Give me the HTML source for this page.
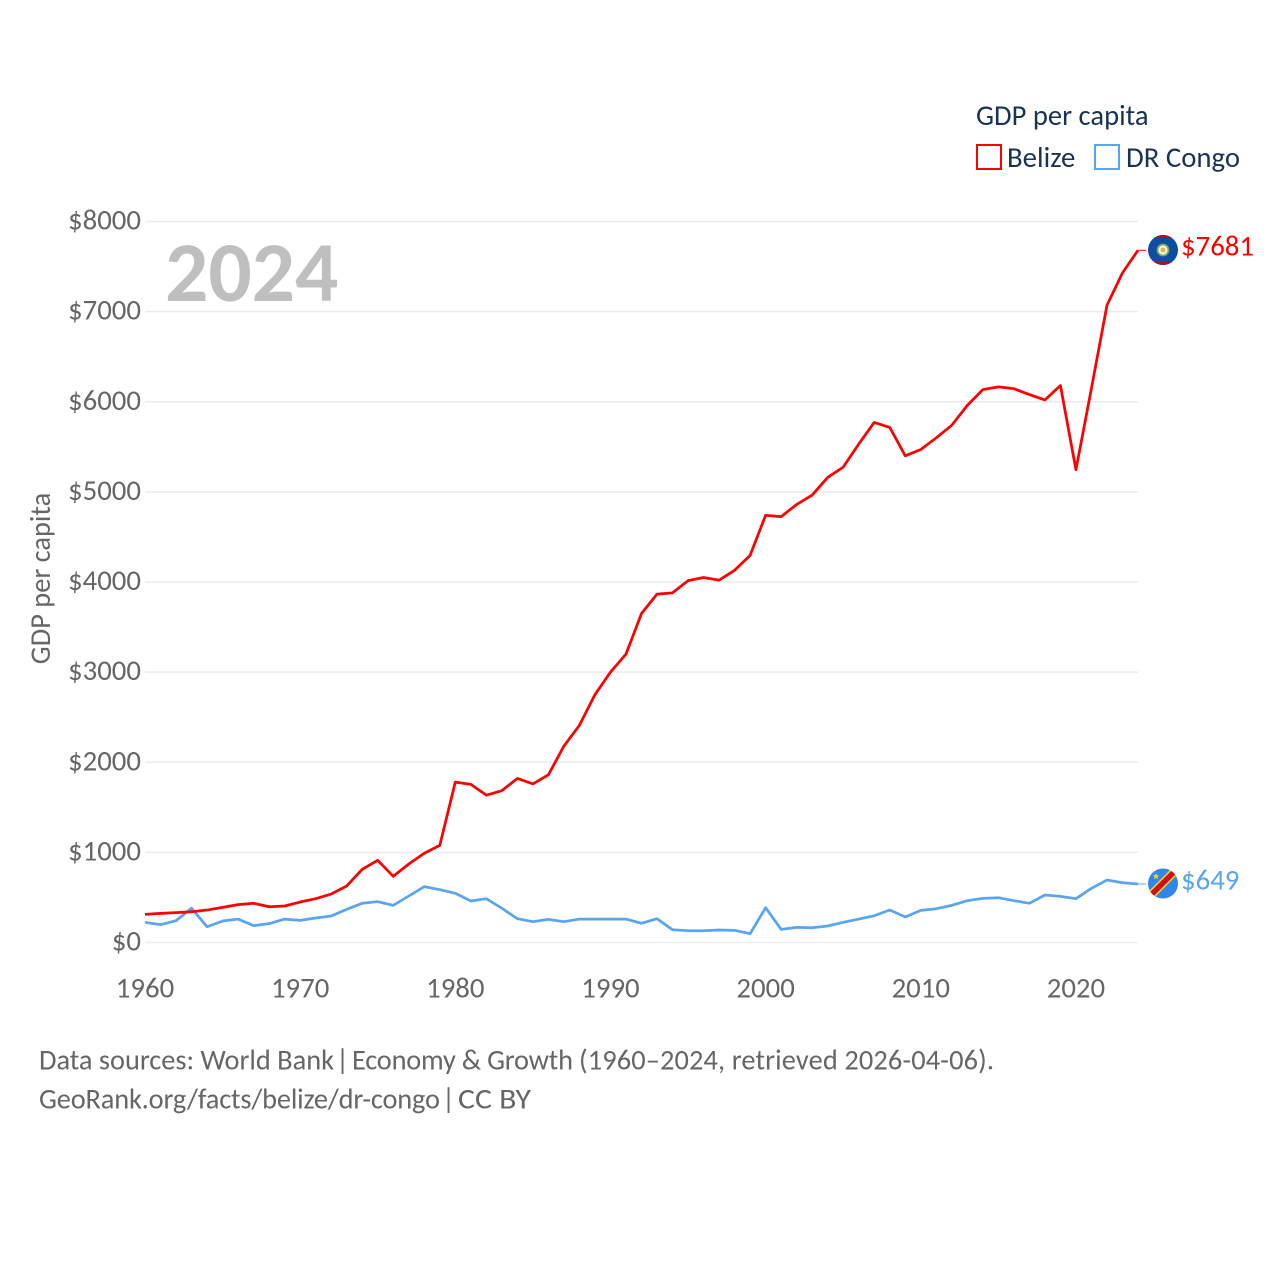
<!DOCTYPE html>
<html>
<head>
<meta charset="utf-8">
<title>GDP per capita: Belize and DR Congo</title>
<style>
html,body{margin:0;padding:0;background:#fff;}
svg{display:block;}
text{font-family:"Carlito","Lato","Liberation Sans",sans-serif;}
</style>
</head>
<body>
<svg id="chart" width="1280" height="1280" viewBox="0 0 1280 1280" xmlns="http://www.w3.org/2000/svg">
  <defs>
    <clipPath id="flag-clip-bz"><circle cx="1163" cy="250" r="15"/></clipPath>
    <clipPath id="flag-clip-cd"><circle cx="1163" cy="883.5" r="15"/></clipPath>
  </defs>
  <g id="grid"></g>
  <g id="yticks"></g>
  <g id="xticks"></g>
  <text x="165" y="301" font-size="85.5" font-weight="700" fill="#bfbfbf">2024</text>
  <text transform="translate(50,578.5) rotate(-90)" text-anchor="middle" font-size="28.4" fill="#666">GDP per capita</text>
  <g id="lines"></g>

  <g clip-path="url(#flag-clip-bz)">
    <rect x="1148" y="235" width="30" height="30" fill="#0b4ea2"/>
    <rect x="1148" y="235" width="30" height="3" fill="#a81030"/>
    <rect x="1148" y="262" width="30" height="3" fill="#a81030"/>
    <circle cx="1163" cy="250" r="5.5" fill="#f4f4e8" stroke="#7fa860" stroke-width="1.8"/>
    <circle cx="1163" cy="250" r="2.5" fill="#d9b65a"/>
  </g>
  <g clip-path="url(#flag-clip-cd)">
    <rect x="1148" y="868" width="30" height="31" fill="#2f86ee"/>
    <line x1="1146" y1="900" x2="1180" y2="866" stroke="#f7d618" stroke-width="8.5"/>
    <line x1="1146" y1="900" x2="1180" y2="866" stroke="#ce1021" stroke-width="5.5"/>
    <polygon points="1156,873 1156.9,875.3 1159.3,875.4 1157.4,876.9 1158.1,879.2 1156,877.9 1153.9,879.2 1154.6,876.9 1152.7,875.4 1155.1,875.3" fill="#f7d618"/>
  </g>

  <text id="label-bz" x="1181" y="255.5" font-size="28.8" fill="#ff0000"></text>
  <text id="label-cd" x="1181" y="889.5" font-size="28.8" fill="#5ba4f0"></text>

  <text x="976" y="125" font-size="28.6" fill="#1a3355">GDP per capita</text>
  <rect x="977" y="145" width="24" height="24" fill="#fff" stroke="#ff0000" stroke-width="2"/>
  <text x="1007" y="167" font-size="28.8" fill="#1a3355">Belize</text>
  <rect x="1095" y="145" width="24" height="24" fill="#fff" stroke="#5ba4f0" stroke-width="2"/>
  <text x="1126" y="167" font-size="28.8" fill="#1a3355">DR Congo</text>

  <text y="1069.5" font-size="28.4" fill="#666"><tspan x="39" textLength="295">Data sources: World Bank</tspan> <tspan x="336">|</tspan> <tspan x="352" textLength="221">Economy &amp; Growth</tspan> <tspan x="579" textLength="415">(1960–2024, retrieved 2026-04-06).</tspan></text>
  <text y="1108.5" font-size="28.4" fill="#666"><tspan x="39" textLength="401">GeoRank.org/facts/belize/dr-congo</tspan> <tspan x="442">|</tspan> <tspan x="458" textLength="73" lengthAdjust="spacingAndGlyphs">CC BY</tspan></text>
</svg>
<script>
const years = [1960,1961,1962,1963,1964,1965,1966,1967,1968,1969,1970,1971,1972,1973,1974,1975,1976,1977,1978,1979,1980,1981,1982,1983,1984,1985,1986,1987,1988,1989,1990,1991,1992,1993,1994,1995,1996,1997,1998,1999,2000,2001,2002,2003,2004,2005,2006,2007,2008,2009,2010,2011,2012,2013,2014,2015,2016,2017,2018,2019,2020,2021,2022,2023,2024];
const belize = [312,323,331,341,360,390,420,435,397,405,449,486,538,627,812,912,734,871,990,1078,1780,1755,1635,1685,1820,1760,1860,2180,2410,2750,3000,3200,3650,3865,3880,4015,4050,4020,4130,4295,4740,4725,4860,4965,5160,5275,5530,5770,5715,5400,5470,5600,5740,5960,6135,6165,6145,6080,6020,6180,5245,6150,7070,7430,7681];
const drCongo = [224,198,242,380,175,238,260,187,209,260,246,272,294,368,435,453,412,516,620,586,546,460,486,380,264,231,257,231,260,260,260,260,213,264,142,131,131,138,135,98,386,146,168,164,183,224,260,297,360,283,357,375,412,464,490,497,464,435,527,512,486,601,693,663,649];
const yTickValues = [0,1000,2000,3000,4000,5000,6000,7000,8000];
const yTickLabels = ["$0","$1000","$2000","$3000","$4000","$5000","$6000","$7000","$8000"];
const xTickValues = [1960,1970,1980,1990,2000,2010,2020];
const xTickLabels = ["1960","1970","1980","1990","2000","2010","2020"];

const NS = "http://www.w3.org/2000/svg";
function xScale(year){ return 145 + (year - 1960) * (1138 - 145) / (2024 - 1960); }
function yScale(value){ return 942.5 - value * (942.5 - 221.5) / 8000; }

const gridG = document.getElementById("grid");
const yG = document.getElementById("yticks");
const xG = document.getElementById("xticks");
const linesG = document.getElementById("lines");

yTickValues.forEach(function(v, i){
  const line = document.createElementNS(NS, "line");
  
  
  line.setAttribute("x1", 145);
  line.setAttribute("x2", 1138);
  line.setAttribute("y1", yScale(v));
  line.setAttribute("y2", yScale(v));
  line.setAttribute("stroke", "#ebebeb");
  line.setAttribute("stroke-width", 1.5);
  gridG.appendChild(line);

  const t = document.createElementNS(NS, "text");
  
  
  t.setAttribute("x", 141);
  t.setAttribute("y", yScale(v) + 8);
  t.setAttribute("text-anchor", "end");
  t.setAttribute("font-size", 28.8);
  t.setAttribute("fill", "#666");
  t.textContent = yTickLabels[i];
  yG.appendChild(t);
});

xTickValues.forEach(function(v, i){
  const t = document.createElementNS(NS, "text");
  
  
  t.setAttribute("x", xScale(v));
  t.setAttribute("y", 997.5);
  t.setAttribute("text-anchor", "middle");
  t.setAttribute("font-size", 28.8);
  t.setAttribute("fill", "#666");
  t.textContent = xTickLabels[i];
  xG.appendChild(t);
});

function pathFor(values){
  return values.map(function(v, i){
    return (i ? "L" : "M") + xScale(years[i]).toFixed(2) + " " + yScale(v).toFixed(2);
  }).join(" ");
}

const bzLast = belize[belize.length - 1];
const cdLast = drCongo[drCongo.length - 1];

const cdPath = document.createElementNS(NS, "path");


cdPath.setAttribute("d", pathFor(drCongo));
cdPath.setAttribute("fill", "none");
cdPath.setAttribute("stroke", "#5ba4f0");
cdPath.setAttribute("stroke-width", 2.75);
cdPath.setAttribute("stroke-linejoin", "round");
linesG.appendChild(cdPath);

const bzPath = document.createElementNS(NS, "path");


bzPath.setAttribute("d", pathFor(belize));
bzPath.setAttribute("fill", "none");
bzPath.setAttribute("stroke", "#ff0000");
bzPath.setAttribute("stroke-width", 2.75);
bzPath.setAttribute("stroke-linejoin", "round");
linesG.appendChild(bzPath);

const bzConn = document.createElementNS(NS, "line");


bzConn.setAttribute("x1", xScale(2024));
bzConn.setAttribute("x2", 1146);
bzConn.setAttribute("y1", yScale(bzLast));
bzConn.setAttribute("y2", yScale(bzLast));
bzConn.setAttribute("stroke", "#ff0000");
bzConn.setAttribute("stroke-width", 1);
linesG.appendChild(bzConn);

const cdConn = document.createElementNS(NS, "line");


cdConn.setAttribute("x1", xScale(2024));
cdConn.setAttribute("x2", 1146);
cdConn.setAttribute("y1", yScale(cdLast));
cdConn.setAttribute("y2", yScale(cdLast));
cdConn.setAttribute("stroke", "#5ba4f0");
cdConn.setAttribute("stroke-width", 1);
linesG.appendChild(cdConn);

document.getElementById("label-bz").textContent = "$" + bzLast;
document.getElementById("label-cd").textContent = "$" + cdLast;
</script>
</body>
</html>
